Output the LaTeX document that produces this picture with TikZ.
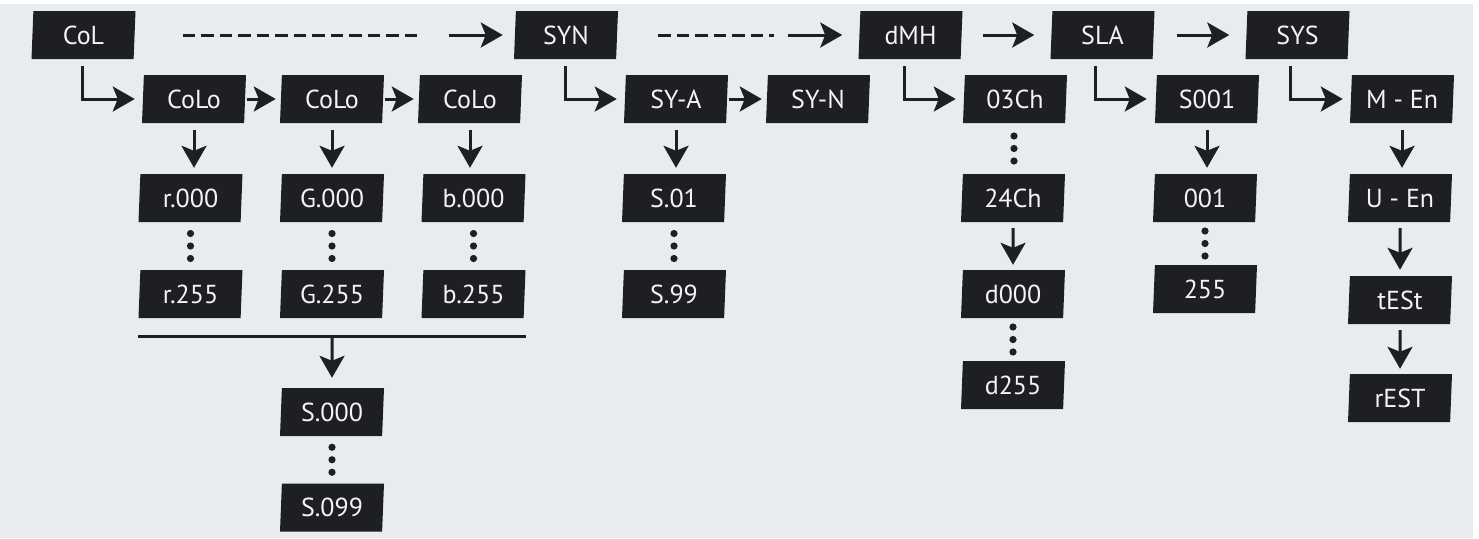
\documentclass[tikz,border=0pt]{standalone}
\usepackage{fontspec}
\setmainfont{PT Sans}
\usetikzlibrary{arrows.meta,shapes.geometric,calc}
\definecolor{bgc}{HTML}{E8ECEE}
\definecolor{boxc}{HTML}{1D1F23}
\definecolor{txtc}{HTML}{F4F4F4}
\definecolor{linec}{HTML}{1D1F23}
\newcommand\dotsbetween[2]{%
  \coordinate (mdot) at ($(#1.south)!0.5!(#2.north)$);
  \foreach \dd in {-12.5,0,12.5} \fill[linec] ($(mdot)+(0,\dd)$) circle[radius=3.6pt];}
\begin{document}
\begin{tikzpicture}[x=1pt,y=-1pt,
  pbox/.style={trapezium, trapezium left angle=84, trapezium right angle=96,
    trapezium stretches body, minimum width=104pt, minimum height=48pt,
    inner sep=0pt, fill=boxc, text=txtc, text height=18pt, text depth=0pt,
    font=\fontsize{26}{26}\selectfont},
  conn/.style={line width=3pt, draw=linec},
  arr/.style={conn, -{Stealth[length=22pt,width=25pt,inset=5pt]}},
  dsh/.style={conn, dash pattern=on 12.5pt off 6pt}]
\useasboundingbox (0,0) rectangle (1479,538);
\fill[white] (0,0) rectangle (1479,538);
\fill[bgc] (0,4) rectangle (1473,538);
% row 1
\node[pbox] (col) at (83.5,35) {CoL};
\node[pbox] (syn) at (566,35) {SYN};
\node[pbox] (dmh) at (910.5,35) {dMH};
\node[pbox] (sla) at (1102.5,35) {SLA};
\node[pbox] (sys) at (1297.5,35) {SYS};
% row 2
\node[pbox] (coloA) at (194,99) {CoLo};
\node[pbox] (coloB) at (332,99) {CoLo};
\node[pbox] (coloC) at (470,99) {CoLo};
\node[pbox] (sya) at (676,99) {SY-A};
\node[pbox] (syn2) at (818,99) {SY-N};
\node[pbox] (ch03) at (1015,99) {03Ch};
\node[pbox] (s001) at (1207,99) {S001};
\node[pbox] (men) at (1402,99) {M - En};
% row 3
\node[pbox] (r000) at (190.5,198) {r.000};
\node[pbox] (g000) at (332,198) {G.000};
\node[pbox] (b000) at (473.5,198) {b.000};
\node[pbox] (s01) at (674,198) {S.01};
\node[pbox] (ch24) at (1013,198) {24Ch};
\node[pbox] (n001) at (1205,198) {001};
\node[pbox] (uen) at (1400,198) {U - En};
% row 4
\node[pbox] (r255) at (190.5,294) {r.255};
\node[pbox] (g255) at (332,294) {G.255};
\node[pbox] (b255) at (473.5,294) {b.255};
\node[pbox] (s99) at (674,294) {S.99};
\node[pbox] (d000) at (1013,294) {d000};
\node[pbox] (n255) at (1205,289) {255};
\node[pbox] (test) at (1400,300) {tESt};
% row 5/6
\node[pbox] (s000) at (332,412) {S.000};
\node[pbox] (d255) at (1013,385) {d255};
\node[pbox] (rest) at (1400,398) {rEST};
\node[pbox] (s099) at (332,507.5) {S.099};
% row 1 connectors
\draw[dsh] ($(col.east)+(48,0)$) -- ($(syn.west)+(-95,0)$);
\draw[arr] ($(syn.west)+(-66,0)$) -- ($(syn.west)+(-12,0)$);
\draw[dsh] ($(syn.east)+(41,0)$) -- ($(dmh.west)+(-85,0)$);
\draw[arr] ($(dmh.west)+(-71,0)$) -- ($(dmh.west)+(-17,0)$);
\draw[arr] ($(dmh.east)+(21,0)$) -- ($(sla.west)+(-17,0)$);
\draw[arr] ($(sla.east)+(23,0)$) -- ($(sys.west)+(-17,0)$);
% row 2 connectors
\draw[arr] ($(col.south)+(-1.5,7)$) |- ($(coloA.west)+(-8,0)$);
\draw[arr] ($(coloA.east)+(2,0)$) -- ($(coloB.west)+(-5,0)$);
\draw[arr] ($(coloB.east)+(2,0)$) -- ($(coloC.west)+(-5,0)$);
\draw[arr] ($(syn.south)+(-1,7)$) |- ($(sya.west)+(-8,0)$);
\draw[arr] ($(sya.east)+(2,0)$) -- ($(syn2.west)+(-5,0)$);
\draw[arr] ($(dmh.south)+(-6.5,7)$) |- ($(ch03.west)+(-8,0)$);
\draw[arr] ($(sla.south)+(-7.5,7)$) |- ($(s001.west)+(-9,0)$);
\draw[arr] ($(sys.south)+(-7.5,7)$) |- ($(men.west)+(-8,0)$);
% vertical arrows
\draw[arr] ($(coloA.south)+(0,7)$) -- ($(coloA.south |- r000.north)+(0,-6)$);
\draw[arr] ($(coloB.south)+(0,7)$) -- ($(coloB.south |- g000.north)+(0,-6)$);
\draw[arr] ($(coloC.south)+(0,7)$) -- ($(coloC.south |- b000.north)+(0,-6)$);
\draw[arr] ($(sya.south)+(0,7)$) -- ($(sya.south |- s01.north)+(0,-6)$);
\draw[arr] ($(s001.south)+(0,7)$) -- ($(s001.south |- n001.north)+(0,-6)$);
\draw[arr] ($(men.south)+(0,7)$) -- ($(men.south |- uen.north)+(0,-6)$);
\draw[arr] ($(ch24.south)+(0,6)$) -- ($(d000.north)+(0,-5)$);
\draw[arr] ($(uen.south)+(0,6)$) -- ($(test.north)+(0,-6)$);
\draw[arr] ($(test.south)+(0,6)$) -- ($(rest.north)+(0,-5)$);
% merge line
\draw[conn] ($(r255.south)+(-52.5,18)$) -- ($(b255.south)+(52.5,18)$);
\draw[arr] ($(g255.south)+(0,18)$) -- ($(s000.north)+(0,-10)$);
% dots
\dotsbetween{r000}{r255}
\dotsbetween{g000}{g255}
\dotsbetween{b000}{b255}
\dotsbetween{s01}{s99}
\dotsbetween{ch03}{ch24}
\dotsbetween{d000}{d255}
\dotsbetween{n001}{n255}
\dotsbetween{s000}{s099}
\end{tikzpicture}
\end{document}
